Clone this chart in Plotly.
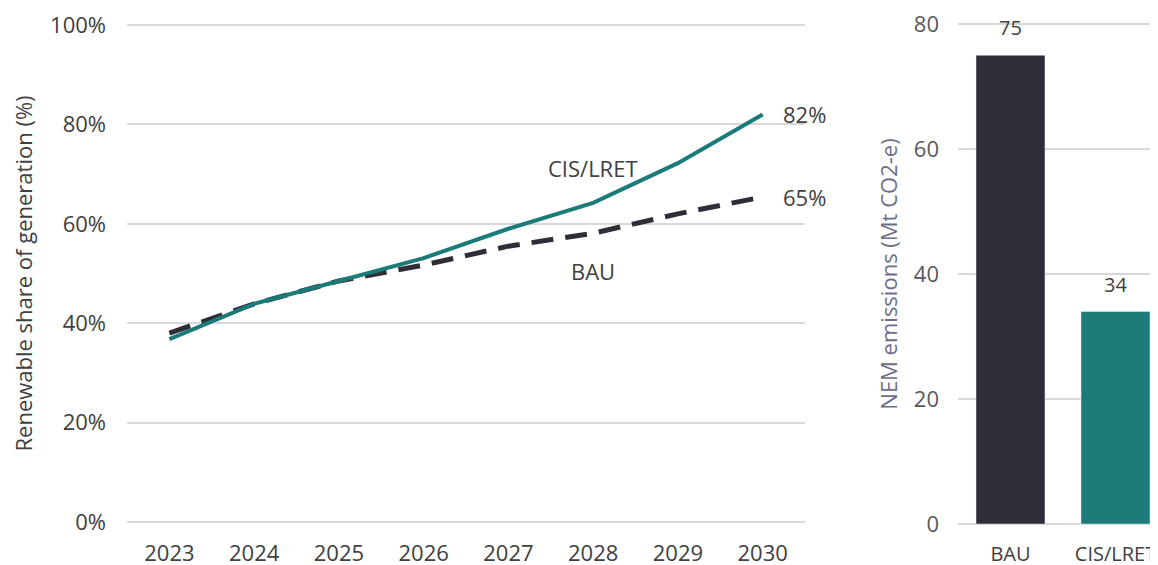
import plotly.graph_objects as go

years = ["2023", "2024", "2025", "2026", "2027", "2028", "2029", "2030"]
cis_lret = [36.8, 43.9, 48.5, 53.1, 59.0, 64.2, 72.2, 82.0]
bau = [38.0, 43.9, 48.5, 51.7, 55.5, 58.1, 62.0, 65.4]
share_ticks = [0, 20, 40, 60, 80, 100]
share_tick_labels = ["0%", "20%", "40%", "60%", "80%", "100%"]

bar_cats = ["BAU", "CIS/LRET"]
bar_vals = [75, 34]
emis_ticks = [0, 20, 40, 60, 80]

TEAL = "#1b7b79"
DARK = "#2e2e38"
TXT = "#404040"
GRID = "#d9d9d9"
FONT = "Open Sans"
FS = 22

fig = go.Figure()
fig.add_trace(go.Scatter(x=years, y=bau, mode="lines", line=dict(color=DARK, width=5, dash="22px,12px"),
                         xaxis="x", yaxis="y", showlegend=False))
fig.add_trace(go.Scatter(x=years, y=cis_lret, mode="lines", line=dict(color=TEAL, width=4),
                         xaxis="x", yaxis="y", showlegend=False))
fig.add_trace(go.Bar(x=bar_cats, y=bar_vals, marker=dict(color=[DARK, TEAL]),
                     xaxis="x2", yaxis="y2", showlegend=False))

i2028 = years.index("2028")
i2030 = years.index("2030")
afont = dict(family=FONT, size=FS, color=TXT)
annotations = [
    dict(x=i2028, y=71.2, xref="x", yref="y", text="CIS/LRET", showarrow=False, font=afont),
    dict(x=i2028, y=50.5, xref="x", yref="y", text="BAU", showarrow=False, font=afont),
    dict(x=i2030, y=cis_lret[-1], xref="x", yref="y", text=f"{round(cis_lret[-1])}%", showarrow=False,
         xanchor="left", xshift=18, font=afont),
    dict(x=i2030, y=bau[-1], xref="x", yref="y", text=f"{round(bau[-1])}%", showarrow=False,
         xanchor="left", xshift=18, font=afont),
]
for i, v in enumerate(bar_vals):
    annotations.append(dict(x=i, y=v, xref="x2", yref="y2", text=str(v), showarrow=False,
                            yanchor="bottom", yshift=12, font=dict(family=FONT, size=20, color=TXT)))

fig.update_layout(
    width=1158, height=565,
    margin=dict(l=0, r=0, t=0, b=0, autoexpand=False),
    paper_bgcolor="white", plot_bgcolor="white",
    font=dict(family=FONT, size=FS, color=TXT),
    bargap=0.343,
    annotations=annotations,
    xaxis=dict(domain=[0.10276, 0.68826], type="category", range=[-0.5, 7.5], automargin=False,
               showgrid=False, showline=False, zeroline=False, ticks="", ticklabelstandoff=13,
               tickfont=dict(family=FONT, size=FS, color=TXT)),
    yaxis=dict(domain=[0.08584, 0.97434], range=[-0.5, 100.5], tickvals=share_ticks, ticktext=share_tick_labels,
               automargin=False, showgrid=True, gridcolor=GRID, gridwidth=2, zeroline=False, showline=False,
               ticklabelstandoff=20, ticklabeloverflow="allow", tickfont=dict(family=FONT, size=FS, color=TXT),
               title=dict(text="Renewable share of generation (%)", standoff=16,
                          font=dict(family=FONT, size=FS, color=TXT))),
    xaxis2=dict(domain=[0.82038, 1.0], type="category", range=[-0.5, 1.481], anchor="y2", automargin=False,
                showgrid=False, showline=False, zeroline=False, ticks="", ticklabelstandoff=13,
                ticklabeloverflow="allow", tickfont=dict(family=FONT, size=20, color=TXT)),
    yaxis2=dict(domain=[0.0823, 0.9761], range=[-0.4, 80.4], tickvals=emis_ticks, anchor="x2", automargin=False,
                showgrid=True, gridcolor=GRID, gridwidth=2, zeroline=False, showline=False,
                ticklabelstandoff=18, ticklabeloverflow="allow",
                tickfont=dict(family=FONT, size=FS, color="#595959"),
                title=dict(text="NEM emissions (Mt CO2-e)", standoff=10,
                           font=dict(family=FONT, size=FS, color="#6e6e8a"))),
)

fig.write_html("out.html")
